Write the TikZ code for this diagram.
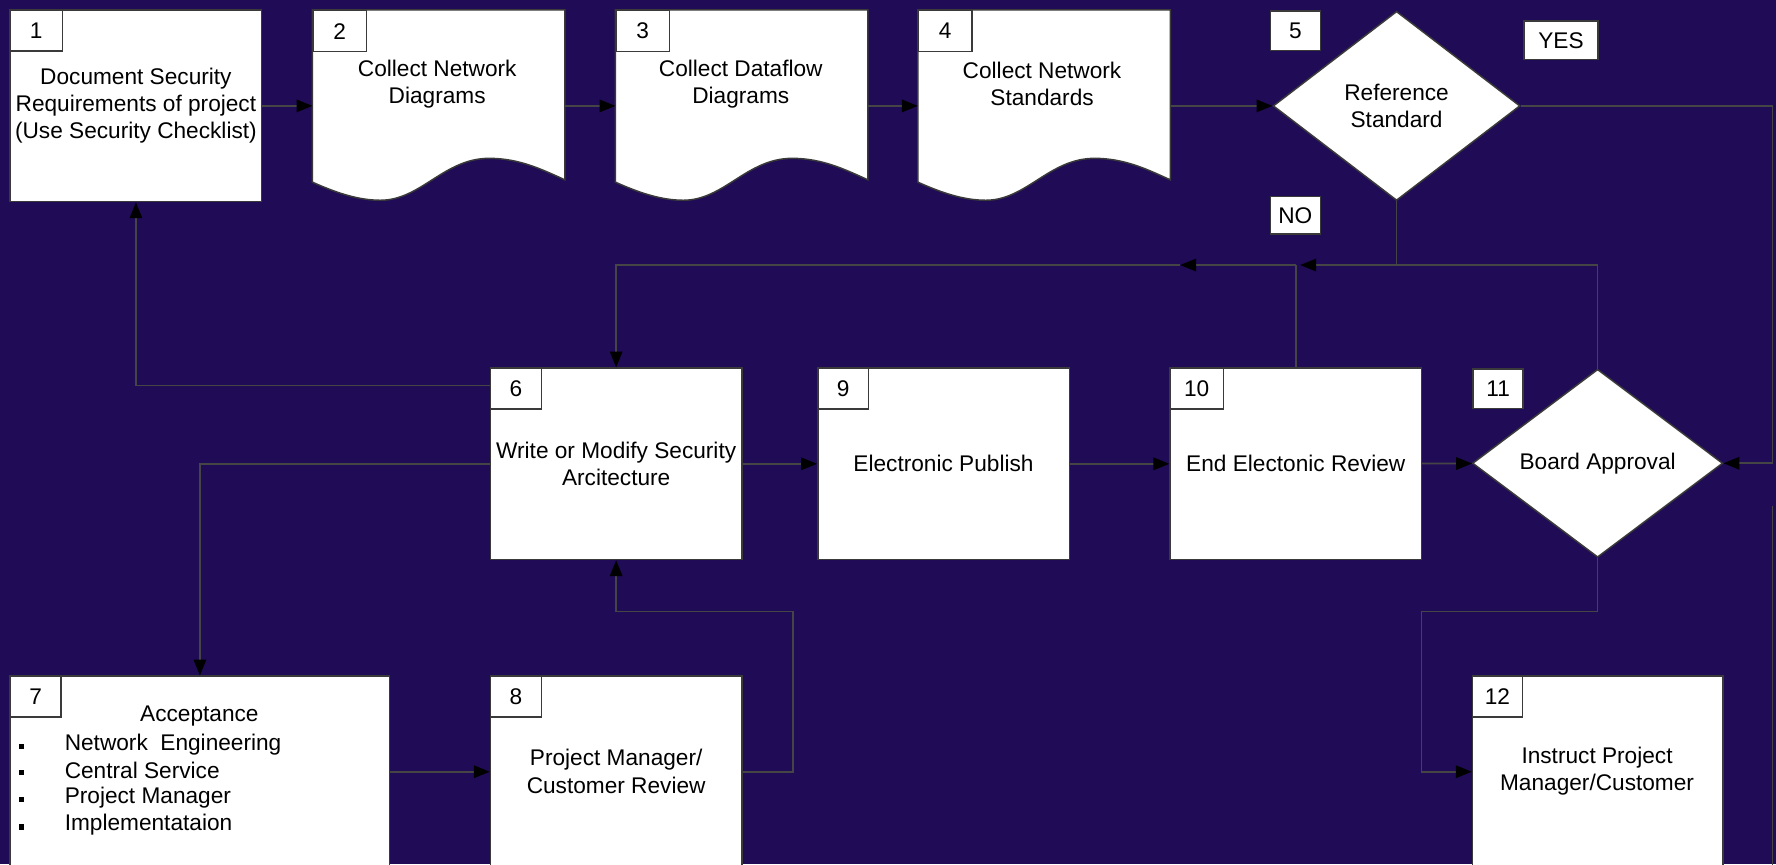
\documentclass[tikz,border=0pt]{standalone}
\usepackage{fontspec}
\setmainfont{Liberation Sans}
\usetikzlibrary{shapes.geometric,arrows.meta,calc}
\definecolor{bg}{HTML}{200B56}
\definecolor{ln}{HTML}{3A3A3A}
\definecolor{wl}{HTML}{454545}
\begin{document}
\begin{tikzpicture}[x=1pt,y=-1pt,
  font=\fontsize{20}{24}\selectfont,
  box/.style={draw=ln, line width=1.3pt, fill=white, inner sep=0pt, align=center},
  tab/.style={draw=ln, line width=1.3pt, fill=white, minimum width=46pt, minimum height=36pt, inner sep=0pt, anchor=north west},
  lbl/.style={draw=ln, line width=1.3pt, fill=white, minimum width=44pt, minimum height=35pt, inner sep=0pt, anchor=north west},
  dia/.style={diamond, draw=ln, fill=white, line width=1.3pt, inner sep=0pt, align=center},
  ghost/.style={inner sep=0pt, minimum width=223pt, minimum height=169pt},
  txt/.style={align=center, inner sep=0pt},
  bul/.style={fill=black, minimum size=5pt, inner sep=0pt},
  wire/.style={draw=wl, line width=1.5pt},
  arr/.style={wire, -{Triangle[length=14pt,width=11pt,color=black]}},
  docshape/.style={fill=white, draw=ln, line width=1.3pt}
]
\useasboundingbox (0,0) rectangle (1568,763);
\clip (0,0) rectangle (1568,763);
\fill[bg] (0,0) rectangle (1568,763);

% ---------- row 1 ----------
\node[box, minimum width=222pt, minimum height=169pt] (b1) at (120,93.5)
  {Document Security\\Requirements of project\\(Use Security Checklist)};
\node[tab] (t1) at (b1.north west) {1};

\foreach \n/\cx in {2/387.5, 3/655, 4/922} {
  \node[ghost] (b\n) at (\cx,93.5) {};
  \begin{scope}[shift={(b\n.north west)}]
    \path[docshape] (0,0) -- (223,0) -- (223,150)
      .. controls (203,141) and (183,131) .. (156,131)
      .. controls (116,131) and (96,168) .. (60,168)
      .. controls (40,168) and (20,161) .. (0,152) -- cycle;
  \end{scope}
  \node[tab, minimum width=47pt] (t\n) at (b\n.north west) {\n};
}
\node[txt] (x2) at (386,74) {Collect Network\\Diagrams};
\node[txt] (x3) at (654,74) {Collect Dataflow\\Diagrams};
\node[txt] (x4) at (920,74) {Collect Network\\Standards};

\node[dia, minimum width=218pt, minimum height=167pt] (d5) at (1233,93.5) {Reference\\Standard};
\node[lbl] (l5) at (1121,9) {5};
\node[lbl, minimum width=65pt, minimum height=34pt] (lyes) at (1345,18) {YES};
\node[lbl, minimum height=33pt] (lno) at (1121,173) {NO};

% ---------- row 2 ----------
\node[box, minimum width=222pt, minimum height=169pt] (b6) at (544,409.5)
  {Write or Modify Security\\Arcitecture};
\node[tab, minimum width=45pt] (t6) at (b6.north west) {6};
\node[box, minimum width=222pt, minimum height=169pt] (b9) at (833,409.5)
  {Electronic Publish};
\node[tab, minimum width=45pt] (t9) at (b9.north west) {9};
\node[box, minimum width=222pt, minimum height=169pt] (b10) at (1144,409.5)
  {End Electonic Review};
\node[tab, minimum width=47pt] (t10) at (b10.north west) {10};
\node[dia, minimum width=221pt, minimum height=166pt] (d11) at (1410.5,409) {Board Approval};
\node[lbl] (l11) at (1300,325) {11};

% ---------- row 3 ----------
\node[box, minimum width=335pt, minimum height=203pt] (b7) at (176.5,698.5) {};
\node[tab, minimum width=45pt] (t7) at (b7.north west) {7};
\node[txt] (x7) at (176,632) {Acceptance};
\node[txt, anchor=west] (x7a) at (57,657) {Network\ \ Engineering};
\node[txt, anchor=west] (x7b) at (57,680) {Central Service};
\node[txt, anchor=west] (x7c) at (57,704) {Project Manager};
\node[txt, anchor=west] (x7d) at (57,728) {Implementataion};
\node[bul] (u1) at (19,659) {};
\node[bul] (u2) at (19,682) {};
\node[bul] (u3) at (19,706) {};
\node[bul] (u4) at (19,730) {};

\node[box, minimum width=222pt, minimum height=203pt] (b8) at (544,698.5) {};
\node[tab, minimum width=45pt] (t8) at (b8.north west) {8};
\node[txt] (x8) at (544,681) {Project Manager/\\Customer Review};

\node[box, minimum width=221pt, minimum height=203pt] (b12) at (1410.5,698.5) {};
\node[tab, minimum width=44pt] (t12) at (b12.north west) {12};
\node[txt] (x12) at (1410,681) {Instruct Project\\Manager/Customer};

% ---------- coordinates ----------
\coordinate (rr) at (1565,93.5);
\coordinate (j5) at (1233,234);
\coordinate (c11) at (1410.5,234);
\coordinate (c10) at (1144,234);
\coordinate (m1) at (1042,234);
\coordinate (k8) at (700,540);
\coordinate (k11) at (1255,540);
\coordinate (e1) at (1565,447);
\coordinate (e2) at (1565,780);

% ---------- connectors ----------
\draw[arr] (b1) -- (b2);
\draw[arr] (b2) -- (b3);
\draw[arr] (b3) -- (b4);
\draw[arr] (b4) -- (d5);
\draw[arr] (d5.east) -- (rr) |- (d11.east);
\draw[wire] (d5.south) -- (j5);
\draw[wire] (d11.north) -- (c11);
\draw[wire] (b10.north) -- (c10);
\draw[arr] (c11) -- ($(c10)+(4,0)$);
\draw[arr] (c10) -- (m1);
\draw[arr] (m1) -| (b6.north);

\draw[arr] (b6) -- (b9);
\draw[arr] (b9) -- (b10);
\draw[arr] (b10) -- (d11);

\draw[arr] ($(b6.north west)+(0,16)$) -| (b1.south);
\draw[arr] (b6.west) -| (b7.north);
\draw[arr] ($(b7.north east)+(0,85)$) -- ($(b8.north west)+(0,85)$);
\draw[arr] ($(b8.north east)+(0,85)$) -| (k8) -| (b6.south);
\draw[arr] (d11.south) |- (k11) |- ($(b12.north west)+(0,85)$);
\draw[wire] (e1) -- (e2);
\end{tikzpicture}
\end{document}
